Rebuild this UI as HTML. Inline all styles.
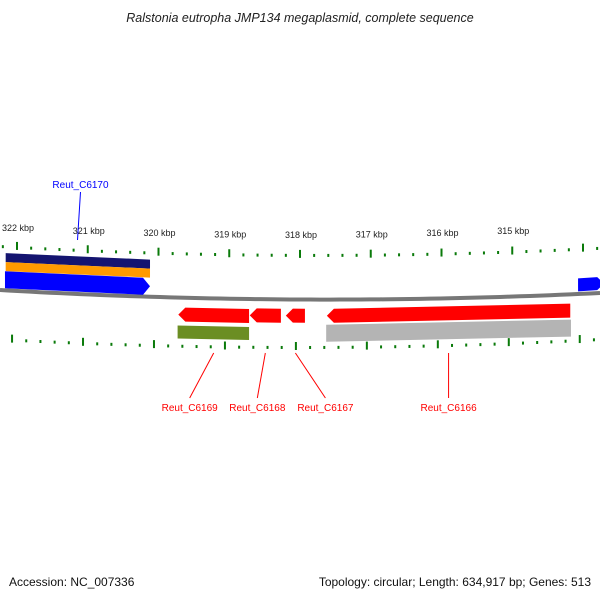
<!DOCTYPE html>
<html><head><meta charset="utf-8"><style>
body{margin:0;background:#fff}
svg{display:block;font-family:"Liberation Sans","DejaVu Sans",sans-serif}
</style></head><body>
<svg id="c" width="600" height="600" viewBox="0 0 600 600">
<text x="300" y="22" text-anchor="middle" font-size="12.5" font-style="italic" fill="#222">Ralstonia eutropha JMP134 megaplasmid, complete sequence</text>
<text x="9" y="586" font-size="12" fill="#111">Accession: NC_007336</text>
<text x="591" y="586" font-size="12" text-anchor="end" fill="#111">Topology: circular; Length: 634,917 bp; Genes: 513</text>
<g id="g"></g>
</svg>
<script>
const tickLabels=[322,321,320,319,318,317,316,315];
const geneNames=["Reut_C6170","Reut_C6169","Reut_C6168","Reut_C6167","Reut_C6166"];
const geneStart=[322.17,319.72,318.71,318.20,317.62];
const geneEnd=[320.12,318.72,318.27,317.93,314.18];
const geneStrand=[1,-1,-1,-1,-1];
const extraStart=[322.16,322.16,314.07,319.73,317.63];
const extraEnd=[320.12,320.12,313.70,318.72,314.17];
const extraKind=["navy","orange","blue","olive","gray"];
const labelShift=[3,-24,-8,30,0];
const NS="http://www.w3.org/2000/svg";
const g=document.getElementById('g');
function X(k){return 17+(322-k)*70.75;}
function A(x){return 8*(1-Math.pow((x-300)/300,2));}
function el(t,a){const e=document.createElementNS(NS,t);for(const k in a)e.setAttribute(k,a[k]);g.appendChild(e);return e;}
let d="";for(let x=0;x<=600;x+=10){d+=(x?"L":"M")+x+","+(290+A(x)+x*0.005);}
let bb=el("path",{d:d,stroke:"#777",fill:"none","stroke-width":4});


for(let i=0;i<=43;i++){const k=322.2-i*0.2;const maj=Math.abs(k-Math.round(k))<0.01;
 let x=X(k);if(x<0||x>600)continue;
 let yt=245+A(x)+x*0.003;
 let t=el("rect",{x:x-1,y:maj?yt-4:yt,width:2,height:maj?8:3,fill:"#0a7a0a"});
 
 
 let xb=x-5+x*0.003;let yb=338+A(xb);
 let b=el("rect",{x:xb-1,y:maj?yb-4:yb,width:2,height:maj?8:3,fill:"#0a7a0a"});
 
 }
tickLabels.forEach(k=>{const x=X(k);const l=el("text",{x:x+1,y:230+A(x),"font-size":9,"text-anchor":"middle",fill:"#222"});l.textContent=k+" kbp";
 
 });
function band(x1,x2,y,h,fill,dir,name){
 const a1=A(x1)+x1*0.005,a2=A(x2)+x2*0.005;let pts;
 if(dir>0)pts=[[x1,y+a1],[x2-7,y+a2],[x2,y+a2+h/2],[x2-7,y+a2+h],[x1,y+a1+h]];
 else if(dir<0)pts=[[x1+7,y+a1],[x2,y+a2],[x2,y+a2+h],[x1+7,y+a1+h],[x1,y+a1+h/2]];
 else pts=[[x1,y+a1],[x2,y+a2],[x2,y+a2+h],[x1,y+a1+h]];
 const p=el("polygon",{points:pts.map(q=>q.join(",")).join(" "),fill:fill});
 
 }
const cols={navy:"#141470",orange:"#ff9a00",blue:"#0000ff",olive:"#6b8e23",gray:"#b4b4b4"};
const ys={navy:[253,9],orange:[262,9],blue:[275,13],olive:[322,13],gray:[320,17]};
extraKind.forEach((k,i)=>{band(X(extraStart[i]),X(extraEnd[i]),ys[k][0]-A(X(extraStart[i]))*0.6,ys[k][1],cols[k],k=="blue"?1:0,k+"-feature");});
geneNames.forEach((n,i)=>{const x1=X(geneStart[i]),x2=X(geneEnd[i]);
 const top=geneStrand[i]>0;
 band(x1,x2,top?271:304-A(x1)*0.6,top?17:14,top?"#0000ff":"#ff0000",geneStrand[i],"gene-"+n.toLowerCase().replace('_','-'));
 const cx=(x1+x2)/2;const col=top?"#0000ff":"#ff0000";
 const lx=cx+labelShift[i];
 const ly=top?184:407;
 const ln=el("line",{x1:cx,y1:top?240:353,x2:lx,y2:top?192:398,stroke:col,"stroke-width":1});
 
 
 const t=el("text",{x:lx,y:ly+4,"font-size":10,"text-anchor":"middle",fill:col});t.textContent=n;
 
 });
</script>
</body></html>
